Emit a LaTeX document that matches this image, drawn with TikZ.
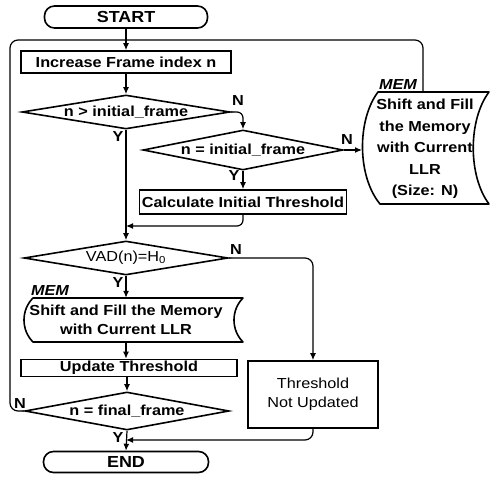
\documentclass[tikz,border=0pt]{standalone}
\usepackage{fontspec}
\setmainfont{Liberation Sans}[FakeStretch=1.12]
\usetikzlibrary{shapes.geometric,arrows.meta}
\begin{document}
\begin{tikzpicture}[x=1pt,y=-1pt,
  every node/.style={font=\fontsize{14.5}{17}\selectfont\bfseries, inner sep=0pt},
  box/.style={draw, line width=1.6pt, rectangle},
  term/.style={draw, line width=1.6pt, rounded corners=10pt, font=\fontsize{16}{18}\selectfont\bfseries},
  dia/.style={draw, diamond, line width=1.6pt},
  shp/.style={line width=1.6pt, line join=round},
  conn/.style={line width=1.2pt},
  arr/.style={conn, -{Latex[length=7pt,width=6pt]}},
  yn/.style={font=\fontsize{14.5}{17}\selectfont\bfseries},
  memlbl/.style={font=\fontsize{14.5}{17}\selectfont\bfseries\itshape},
  plain/.style={font=\fontsize{14.5}{17}\selectfont}
]
\useasboundingbox (0,0) rectangle (493,478);

% terminals
\node[term, minimum width=163, minimum height=22] (start) at (126,17) {START};
\node[term, minimum width=165, minimum height=21] (end) at (126,462) {END};

% process boxes
\node[box, minimum width=210, minimum height=22] (inc) at (126,62) {Increase Frame index n};
\node[box, minimum width=207, minimum height=24] (calc) at (243,202) {Calculate Initial Threshold};
\node[box, minimum width=216, minimum height=17] (upd) at (129,368) {Update Threshold};
\node[box, minimum width=130, minimum height=67, align=center, plain] (thr) at (313,394.5) {Threshold\\[2pt]Not Updated};

% decisions
\node[dia, minimum width=208, minimum height=34] (d1) at (126,112) {};
\node (d1t) at (d1) {n > initial\_frame};
\node[dia, minimum width=200, minimum height=40] (d2) at (243,150) {};
\node (d2t) at (d2) {n = initial\_frame};
\node[dia, minimum width=204, minimum height=34] (d3) at (126,258) {};
\node[plain] (d3t) at (d3) {VAD(n)=H\textsubscript{0}};
\node[dia, minimum width=204, minimum height=38] (d4) at (127,411) {};
\node (d4t) at (d4) {n = final\_frame};

% stored data (memory) shapes
\draw[shp] (33,298) -- (243,298) .. controls (231,310) and (231,330) .. (243,342)
  -- (33,342) .. controls (21,330) and (21,310) .. (33,298) -- cycle;
\node[minimum width=200, minimum height=44, align=center] (m2) at (126,320)
  {Shift and Fill the Memory\\[2pt]with Current LLR};
\draw[shp] (378,92) -- (489,92) .. controls (468,120) and (468,176) .. (489,204)
  -- (380,204) .. controls (357,176) and (357,120) .. (378,92) -- cycle;
\node[minimum width=100, minimum height=112, align=center] (m1) at (425,149)
  {Shift and Fill\\[4.5pt]the Memory\\[4.5pt]with Current\\[4.5pt]LLR\\[4.5pt](Size: N)};
\node[memlbl] (mem1) at (398,85) {MEM};
\node[memlbl] (mem2) at (50,291) {MEM};

% helper coordinates
\coordinate (jn) at (126,40);
\coordinate (lc) at (10,40);
\coordinate (m1top) at (423,92);
\coordinate (m1w) at (362,150);
\coordinate (cj) at (126,226);
\coordinate (ej) at (126,440);

% connectors
\draw[arr] (start.south) -- (inc.north);
\draw[conn, rounded corners=8pt] (m1top) |- (jn);
\draw[conn, rounded corners=8pt] (d4.west) -| (lc) -- (jn);
\draw[arr] (inc.south) -- (d1.north);
\draw[arr, rounded corners=6pt] (d1.east) -| (d2.north);
\draw[arr] (d2.east) -- (m1w);
\draw[arr] (d2.south) -- (calc.north);
\draw[arr, rounded corners=6pt] (calc.south) |- (cj);
\draw[arr] (d1.south) -- (d3.north);
\draw[arr, rounded corners=8pt] (d3.east) -| (thr.north);
\draw[arr] (d3.south) -- (m2.north);
\draw[arr] (m2.south) -- (m2.south |- upd.north);
\draw[arr] (upd.south -| d4.north) -- (d4.north);
\draw[arr] (d4.south) -- (end.north);
\draw[arr, rounded corners=8pt] (thr.south) |- (ej);

% Y / N labels
\node[yn] (n1) at (238,101) {N};
\node[yn] (y1) at (118,137) {Y};
\node[yn] (n2) at (347,140) {N};
\node[yn] (y2) at (234,176) {Y};
\node[yn] (n3) at (236,250) {N};
\node[yn] (y3) at (118,283) {Y};
\node[yn] (n4) at (20,404) {N};
\node[yn] (y4) at (118,438) {Y};
\end{tikzpicture}
\end{document}
